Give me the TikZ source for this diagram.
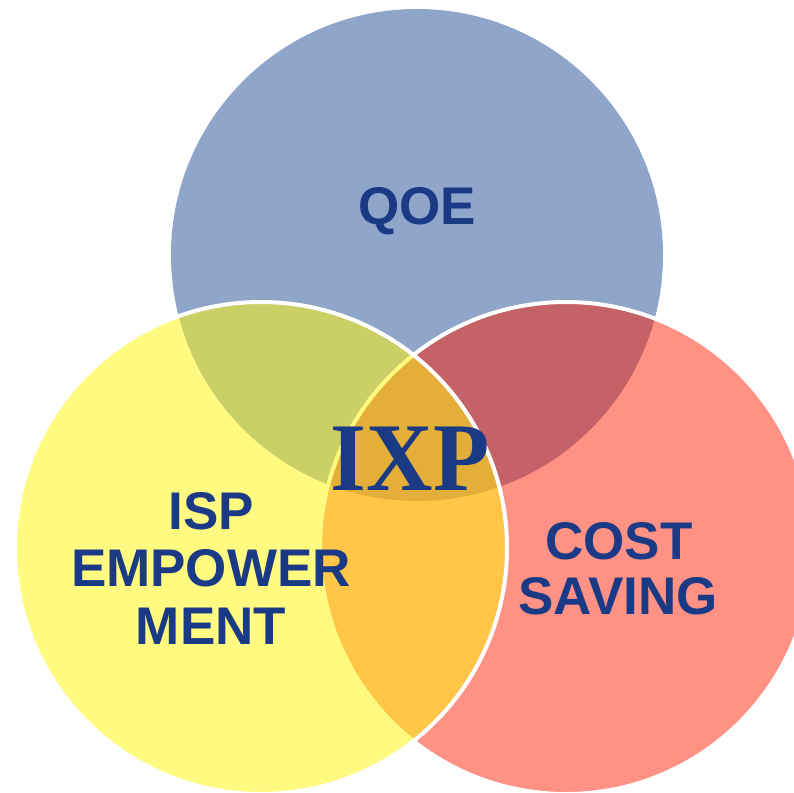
\documentclass[tikz,border=0pt]{standalone}
\usepackage{fontspec}
\setmainfont{Liberation Serif}
\setsansfont{Liberation Sans}
\definecolor{qoeblue}{RGB}{143,165,201}
\definecolor{costred}{RGB}{255,26,0}
\definecolor{ispyellow}{RGB}{255,245,15}
\definecolor{txtblue}{RGB}{27,58,134}
\begin{document}
\begin{tikzpicture}[x=1pt,y=-1pt,
  lbl/.style={anchor=base,inner sep=0pt,text=txtblue,font=\sffamily\bfseries\fontsize{53}{58}\selectfont},
  ring/.style={draw=white,line width=4pt}]
\useasboundingbox (0,0) rectangle (794,792);
\clip (0,0) rectangle (794,792);
% circles
\fill[qoeblue] (417,255) circle[radius=246pt];
\filldraw[ring,fill=costred,fill opacity=0.48] (566,548) circle[radius=246pt];
\filldraw[ring,fill=ispyellow,fill opacity=0.53] (261,548) circle[radius=246pt];
% labels
\node[lbl] (qoe) at (417,224) {QOE};
\node[lbl] (isp1) at (211,529) {ISP};
\node[lbl] (isp2) at (211,586) {EMPOWER};
\node[lbl] (isp3) at (211,644) {MENT};
\node[lbl] (cost1) at (619,559) {COST};
\node[lbl] (cost2) at (618,614) {SAVING};
\node[anchor=base,inner sep=0pt,text=txtblue,xscale=0.95,font=\rmfamily\bfseries\fontsize{97}{100}\selectfont] (ixp) at (410,490) {IXP};
\end{tikzpicture}
\end{document}
